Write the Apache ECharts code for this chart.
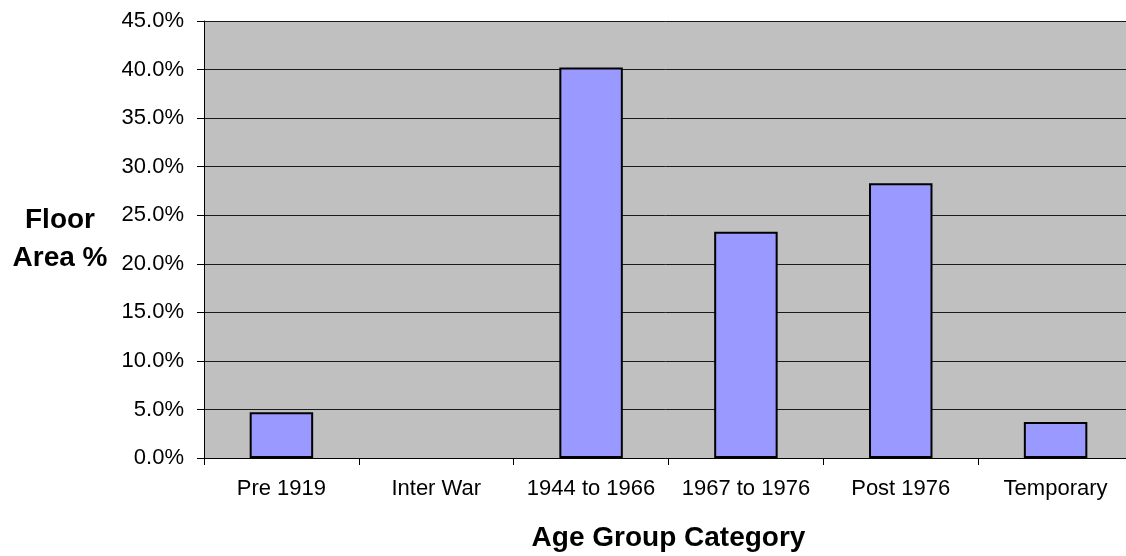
<!DOCTYPE html>
<html>
<head>
<meta charset="utf-8">
<script src="https://cdn.jsdelivr.net/npm/echarts@6/dist/echarts.min.js"></script>
<style>
html,body{margin:0;padding:0;background:#fff;}
#chart{width:1126px;height:556px;}
</style>
</head>
<body>
<div id="chart"></div>
<script>
var categories = ['Pre 1919', 'Inter War', '1944 to 1966', '1967 to 1976', 'Post 1976', 'Temporary'];
var floorAreaPct = [4.7, 0, 40.2, 23.3, 28.3, 3.7];
var yTicks = {min: 0, max: 45, interval: 5};

var FONT = 'Arial, "Liberation Sans", sans-serif';
var barData = floorAreaPct.map(function (v) {
  return v === 0 ? {value: v, itemStyle: {borderWidth: 0}} : v;
});
var chart = echarts.init(document.getElementById('chart'), null, {renderer: 'canvas'});
chart.setOption({
  animation: false,
  backgroundColor: '#ffffff',
  grid: {
    left: 204, top: 21, bottom: 98, right: -7,
    show: true, backgroundColor: '#c0c0c0', borderWidth: 0,
    containLabel: false, outerBoundsMode: 'none'
  },
  xAxis: {
    type: 'category',
    data: categories,
    name: 'Age Group Category',
    nameLocation: 'middle',
    nameGap: 66,
    nameTextStyle: {fontFamily: FONT, fontSize: 28, fontWeight: 'bold', color: '#000'},
    axisLine: {show: true, lineStyle: {color: '#000', width: 1}},
    axisTick: {show: true, alignWithLabel: false, length: 7, lineStyle: {color: '#000'}},
    axisLabel: {fontFamily: FONT, fontSize: 22, color: '#000', margin: 20, interval: 0},
    splitLine: {show: false}
  },
  yAxis: {
    type: 'value',
    min: yTicks.min, max: yTicks.max, interval: yTicks.interval,
    name: 'Floor\nArea %',
    nameLocation: 'middle',
    nameRotate: 0,
    nameGap: 144,
    nameTextStyle: {fontFamily: FONT, fontSize: 28, fontWeight: 'bold', color: '#000', align: 'center', verticalAlign: 'middle', lineHeight: 38},
    axisLine: {show: true, lineStyle: {color: '#000', width: 1}},
    axisTick: {show: true, length: 7, lineStyle: {color: '#000'}},
    axisLabel: {fontFamily: FONT, fontSize: 22, color: '#000', margin: 20,
      formatter: function (v) { return v.toFixed(1) + '%'; }},
    splitLine: {show: true, lineStyle: {color: '#1a1a1a', width: 1}}
  },
  series: [{
    type: 'bar',
    data: barData,
    barWidth: '41%',
    itemStyle: {color: '#9999ff', borderColor: '#000', borderWidth: 2}
  }]
});
</script>
</body>
</html>
